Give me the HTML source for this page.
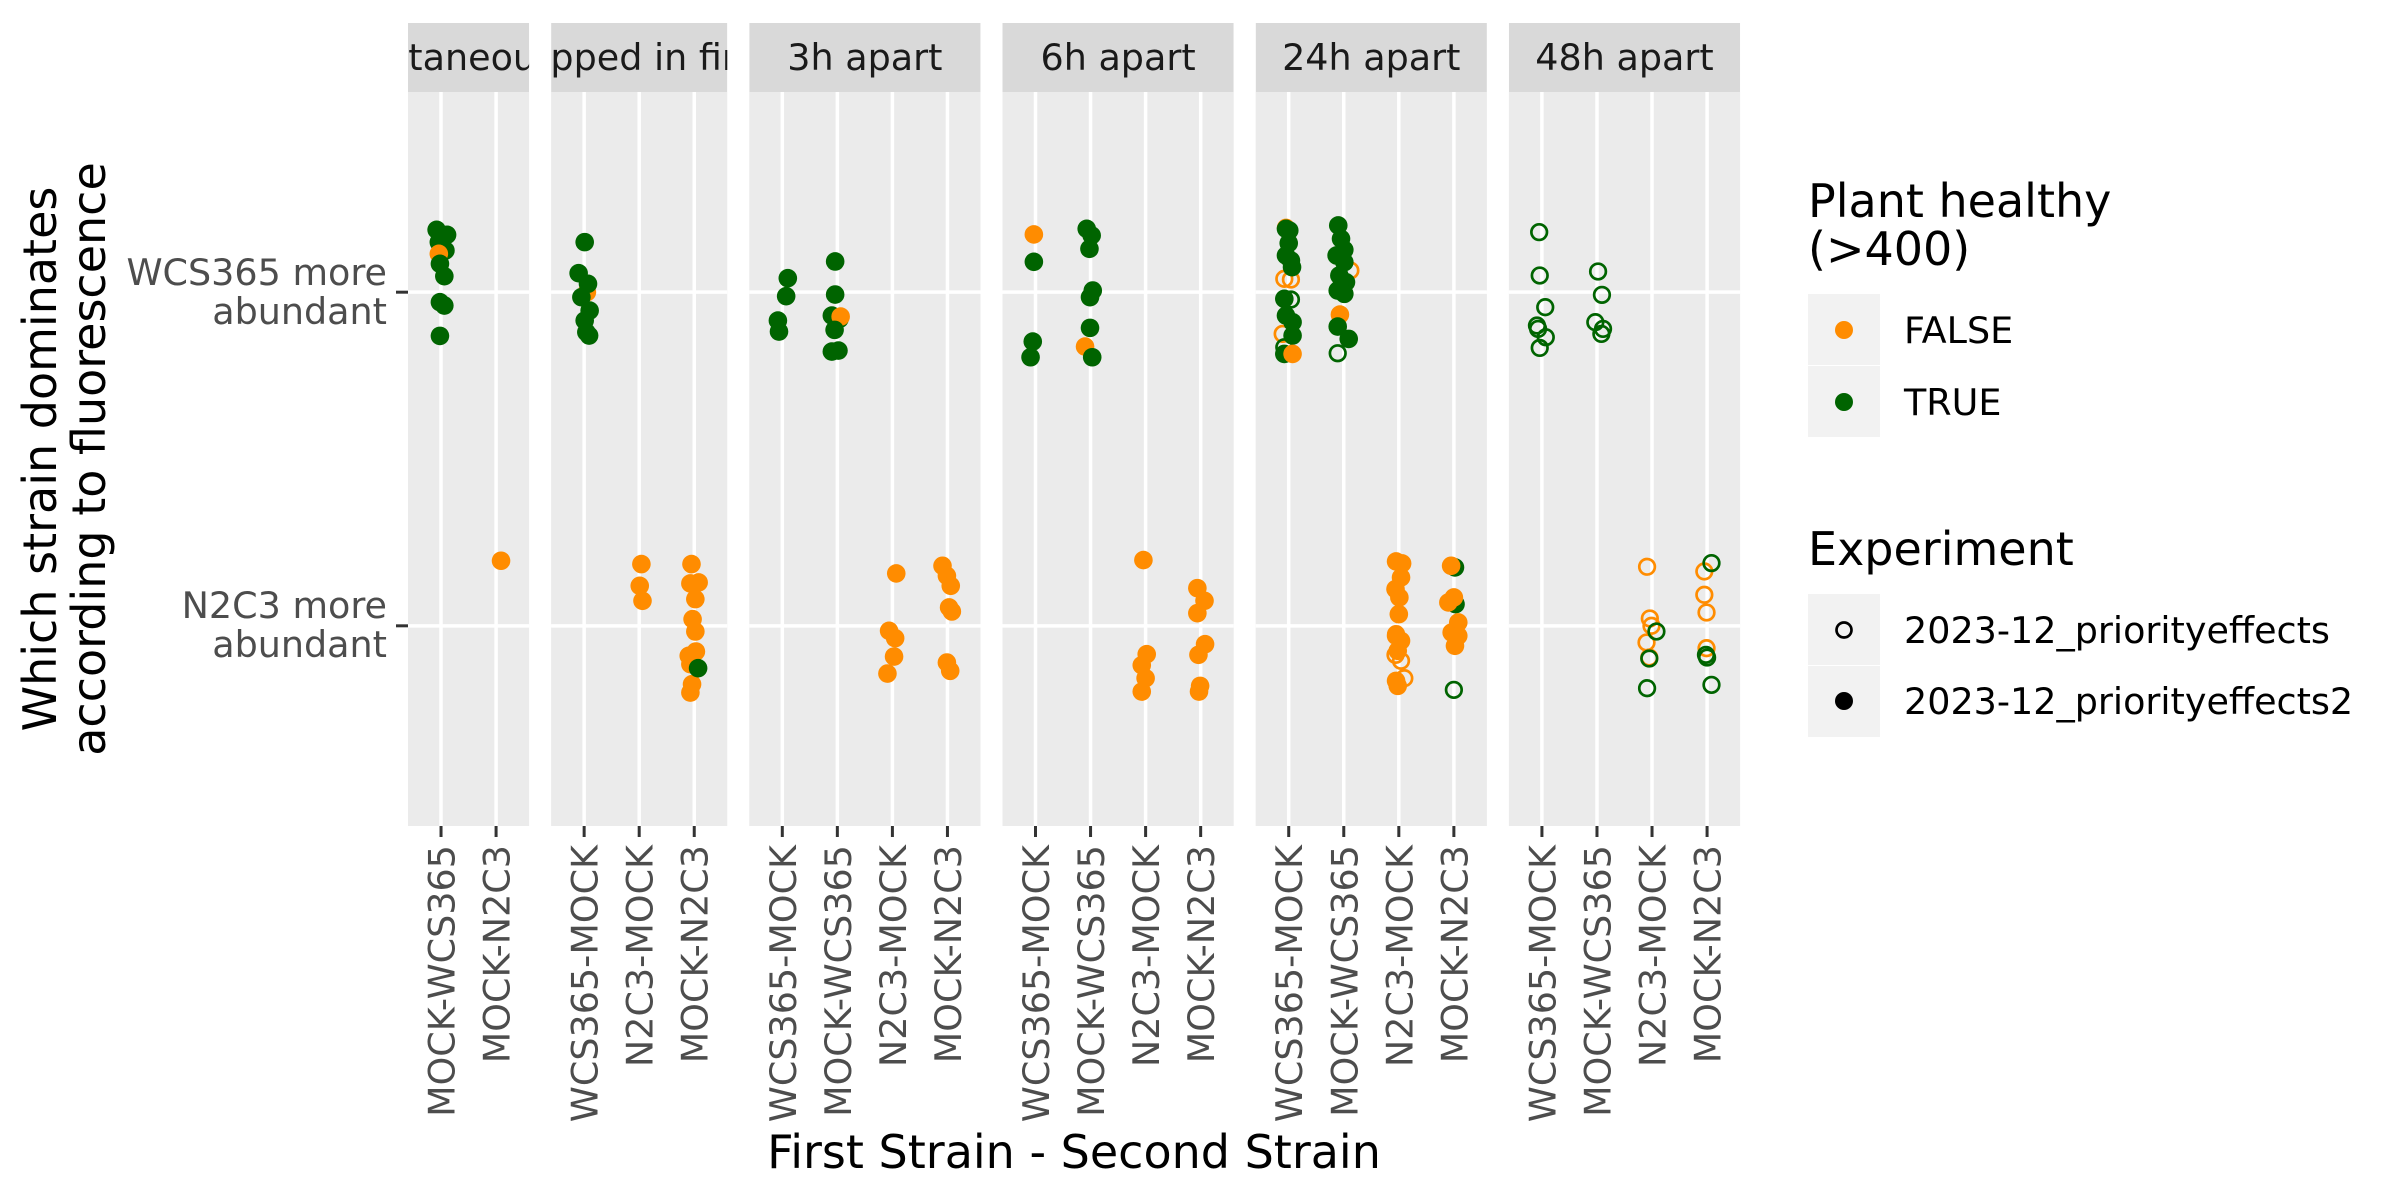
<!DOCTYPE html>
<html><head><meta charset="utf-8"><title>Strain dominance by fluorescence</title>
<style>
html,body{margin:0;padding:0;background:#fff;}
svg{display:block;font-family:"DejaVu Sans","Liberation Sans",sans-serif;}
</style></head>
<body>
<svg id="chart" width="2400" height="1200" viewBox="0 0 2400 1200" xmlns="http://www.w3.org/2000/svg">
  <defs id="defs"></defs>
  <g id="panels"></g>
  <g id="yaxis">
    <text x="387" y="285" font-size="36.5" fill="#4D4D4D" text-anchor="end">WCS365 more</text>
    <text x="387" y="324" font-size="36.5" fill="#4D4D4D" text-anchor="end">abundant</text>
    <text x="387" y="618" font-size="36.5" fill="#4D4D4D" text-anchor="end">N2C3 more</text>
    <text x="387" y="657" font-size="36.5" fill="#4D4D4D" text-anchor="end">abundant</text>
  </g>
  <g font-size="46" fill="#000" text-anchor="middle">
    <text transform="translate(56,459) rotate(-90)">Which strain dominates</text>
    <text transform="translate(105,459) rotate(-90)">according to fluorescence</text>
  </g>
  <text x="1074" y="1168" font-size="46" fill="#000" text-anchor="middle">First Strain - Second Strain</text>

  <g>
    <text x="1808" y="217" font-size="46">Plant healthy</text>
    <text x="1808" y="265" font-size="46">(&gt;400)</text>
    <rect x="1808" y="294" width="72" height="71" fill="#F2F2F2"/>
    <rect x="1808" y="366" width="72" height="71" fill="#F2F2F2"/>
    <circle cx="1844" cy="330" r="9" fill="#FF8C00"/>
    <circle cx="1844" cy="402" r="9" fill="#006400"/>
    <text x="1904" y="343" font-size="36.5" fill="#000">FALSE</text>
    <text x="1904" y="415" font-size="36.5" fill="#000">TRUE</text>
  </g>
  <g>
    <text x="1808" y="565" font-size="46">Experiment</text>
    <rect x="1808" y="594" width="72" height="71" fill="#F2F2F2"/>
    <rect x="1808" y="666" width="72" height="71" fill="#F2F2F2"/>
    <circle cx="1844" cy="630" r="7.5" fill="none" stroke="#000" stroke-width="2.7"/>
    <circle cx="1844" cy="701" r="9" fill="#000"/>
    <text x="1904" y="643" font-size="36.5" fill="#000">2023-12_priorityeffects</text>
    <text x="1904" y="714" font-size="36.5" fill="#000">2023-12_priorityeffects2</text>
  </g>
</svg>
<script>
// ---- data ----
const facetLabels = ["Simultaneous", "Dropped in first", "3h apart", "6h apart", "24h apart", "48h apart"];
const facetCategories = [
  ["MOCK-WCS365", "MOCK-N2C3"],
  ["WCS365-MOCK", "N2C3-MOCK", "MOCK-N2C3"],
  ["WCS365-MOCK", "MOCK-WCS365", "N2C3-MOCK", "MOCK-N2C3"],
  ["WCS365-MOCK", "MOCK-WCS365", "N2C3-MOCK", "MOCK-N2C3"],
  ["WCS365-MOCK", "MOCK-WCS365", "N2C3-MOCK", "MOCK-N2C3"],
  ["WCS365-MOCK", "MOCK-WCS365", "N2C3-MOCK", "MOCK-N2C3"]
];
const yCategories = ["N2C3 more abundant", "WCS365 more abundant"]; // 1, 2
// points: [facet, categoryIndex, jitterX (category units), value (1=N2C3 .. 2=WCS365, jittered), healthy (1/0), experiment (1 = open, 2 = filled)]
const points = [
  [0,0,-0.08,2.187,1,2],[0,0,0.11,2.172,1,2],[0,0,-0.04,2.15,1,2],[0,0,0.08,2.125,1,2],[0,0,-0.04,2.115,0,2],
  [0,0,-0.02,2.085,1,2],[0,0,0.06,2.048,1,2],[0,0,-0.02,1.97,1,2],[0,0,0.06,1.96,1,2],[0,0,-0.02,1.869,1,2],
  [0,1,0.09,1.195,0,2],
  [1,0,0.01,2.15,1,2],[1,0,-0.1,2.057,1,2],[1,0,0.05,2.0,0,2],[1,0,0.07,2.025,1,2],[1,0,-0.05,1.985,1,2],
  [1,0,0.1,1.945,1,2],[1,0,0.01,1.915,1,2],[1,0,0.04,1.88,1,2],[1,0,0.09,1.87,1,2],
  [1,1,0.04,1.185,0,2],[1,1,0.01,1.12,0,2],[1,1,0.06,1.075,0,2],
  [1,2,-0.05,1.185,0,2],[1,2,0.08,1.13,0,2],[1,2,-0.07,1.127,0,2],[1,2,0.02,1.08,0,2],[1,2,-0.03,1.02,0,2],
  [1,2,0.02,0.983,0,2],[1,2,0.03,0.923,0,2],[1,2,-0.1,0.91,0,2],[1,2,-0.07,0.885,0,2],[1,2,-0.04,0.825,0,2],
  [1,2,-0.07,0.8,0,2],[1,2,0.07,0.873,1,2],
  [2,0,0.1,2.042,1,2],[2,0,0.07,1.988,1,2],[2,0,-0.08,1.915,1,2],[2,0,-0.06,1.882,1,2],
  [2,1,-0.04,2.092,1,2],[2,1,-0.04,1.993,1,2],[2,1,-0.1,1.93,1,2],[2,1,0.04,1.92,1,2],[2,1,0.06,1.927,0,2],
  [2,1,-0.05,1.887,1,2],[2,1,-0.1,1.822,1,2],[2,1,0.02,1.825,1,2],
  [2,2,0.07,1.157,0,2],[2,2,-0.06,0.985,0,2],[2,2,0.05,0.963,0,2],[2,2,0.03,0.908,0,2],[2,2,-0.09,0.857,0,2],
  [2,3,-0.09,1.18,0,2],[2,3,-0.01,1.15,0,2],[2,3,0.06,1.12,0,2],[2,3,0.03,1.055,0,2],[2,3,0.08,1.043,0,2],
  [2,3,-0.01,0.89,0,2],[2,3,0.05,0.865,0,2],
  [3,0,-0.03,2.173,0,2],[3,0,-0.03,2.091,1,2],[3,0,-0.05,1.852,1,2],[3,0,-0.09,1.805,1,2],
  [3,1,-0.07,2.19,1,2],[3,1,0.02,2.17,1,2],[3,1,-0.02,2.13,1,2],[3,1,0.04,2.005,1,2],[3,1,-0.01,1.985,1,2],
  [3,1,-0.01,1.893,1,2],[3,1,-0.1,1.837,0,2],[3,1,0.03,1.805,1,2],
  [3,2,-0.04,1.197,0,2],[3,2,0.02,0.915,0,2],[3,2,-0.07,0.882,0,2],[3,2,0.0,0.843,0,2],[3,2,-0.07,0.803,0,2],
  [3,3,-0.06,1.113,0,2],[3,3,0.07,1.075,0,2],[3,3,-0.06,1.038,0,2],[3,3,0.08,0.945,0,2],[3,3,-0.04,0.913,0,2],
  [3,3,-0.01,0.82,0,2],[3,3,-0.03,0.803,0,2],
  [4,0,-0.08,2.04,0,1],[4,0,0.04,2.038,0,1],[4,0,-0.11,1.875,0,1],[4,0,-0.05,2.193,0,1],[4,0,0.04,1.978,1,1],[4,0,-0.08,1.835,1,1],
  [4,0,-0.05,2.19,1,2],[4,0,0.01,2.185,1,2],[4,0,0.0,2.147,1,2],[4,0,-0.05,2.11,1,2],[4,0,0.04,2.095,1,2],
  [4,0,0.06,2.075,1,2],[4,0,-0.08,1.98,1,2],[4,0,-0.05,1.93,1,2],[4,0,0.07,1.91,1,2],[4,0,0.07,1.87,1,2],
  [4,0,-0.08,1.815,1,2],[4,0,0.07,1.815,0,2],
  [4,1,0.12,2.065,0,1],[4,1,-0.11,1.817,1,1],
  [4,1,-0.1,2.2,1,2],[4,1,-0.05,2.16,1,2],[4,1,0.01,2.127,1,2],[4,1,-0.13,2.11,1,2],[4,1,0.01,2.09,1,2],
  [4,1,-0.08,2.05,1,2],[4,1,0.04,2.03,1,2],[4,1,-0.11,2.005,1,2],[4,1,0.01,1.995,1,2],[4,1,-0.07,1.933,0,2],
  [4,1,-0.11,1.897,1,2],[4,1,0.09,1.86,1,2],
  [4,2,-0.06,0.913,0,1],[4,2,0.04,0.895,0,1],[4,2,0.1,0.843,0,1],[4,2,-0.05,0.975,0,1],
  [4,2,-0.05,1.193,0,2],[4,2,0.06,1.187,0,2],[4,2,0.04,1.145,0,2],[4,2,-0.06,1.11,0,2],[4,2,0.01,1.085,0,2],
  [4,2,0.0,1.035,0,2],[4,2,0.04,0.955,0,2],[4,2,-0.05,0.97,0,2],[4,2,-0.02,0.925,0,2],[4,2,-0.05,0.835,0,2],[4,2,-0.02,0.82,0,2],
  [4,3,0.0,0.808,1,1],
  [4,3,0.02,1.175,1,2],[4,3,0.03,1.065,1,2],
  [4,3,-0.05,1.18,0,2],[4,3,0.0,1.085,0,2],[4,3,-0.1,1.07,0,2],[4,3,0.08,1.01,0,2],[4,3,-0.04,0.98,0,2],
  [4,3,0.08,0.97,0,2],[4,3,0.02,0.94,0,2],
  [5,0,-0.05,2.18,1,1],[5,0,-0.04,2.05,1,1],[5,0,0.06,1.955,1,1],[5,0,-0.09,1.9,1,1],[5,0,-0.07,1.89,1,1],
  [5,0,0.07,1.865,1,1],[5,0,-0.04,1.833,1,1],
  [5,1,0.02,2.062,1,1],[5,1,0.09,1.992,1,1],[5,1,-0.03,1.91,1,1],[5,1,0.11,1.89,1,1],[5,1,0.08,1.875,1,1],
  [5,2,-0.09,1.177,0,1],[5,2,-0.04,1.022,0,1],[5,2,-0.01,1.0,0,1],[5,2,-0.1,0.95,0,1],[5,2,-0.05,0.905,0,1],
  [5,2,0.08,0.983,1,1],[5,2,-0.05,0.902,1,1],[5,2,-0.09,0.813,1,1],
  [5,3,-0.05,1.163,0,1],[5,3,-0.05,1.093,0,1],[5,3,-0.01,1.04,0,1],[5,3,-0.01,0.933,0,1],
  [5,3,0.08,1.188,1,1],[5,3,-0.02,0.913,1,1],[5,3,0.0,0.905,1,1],[5,3,0.08,0.823,1,1]
];
const stripClipOffsetEm = [2.79, 1.79, null, null, null, null];

// ---- layout ----
const NS = "http://www.w3.org/2000/svg";
const panelTop = 92, panelBottom = 826, stripTop = 23;
const x0 = 408, catUnit = 55.05, expand = 0.6, gap = 22.0;
const FS = 36.5;
const colorHealthy = ["#FF8C00", "#006400"];
function yScale(v) { return panelBottom - (v - 1 + expand) / (1 + 2 * expand) * (panelBottom - panelTop); }
function mk(tag, attrs, parent) {
  const el = document.createElementNS(NS, tag);
  for (const k in attrs) el.setAttribute(k, attrs[k]);
  parent.appendChild(el);
  return el;
}
const panelsG = document.getElementById("panels");
const defs = document.getElementById("defs");
const panelStarts = [];
let cx = x0;
facetCategories.forEach((cats) => {
  panelStarts.push(cx);
  cx += ((cats.length - 1) + 2 * expand) * catUnit + gap;
});
function xScale(f, ci) { return panelStarts[f] + (expand + ci) * catUnit; }

facetCategories.forEach((cats, f) => {
  const left = panelStarts[f];
  const w = ((cats.length - 1) + 2 * expand) * catUnit;
  const g = mk("g", {}, panelsG);
  
  
  const bg = mk("rect", {x: left, y: panelTop, width: w, height: panelBottom - panelTop, fill: "#EBEBEB"}, g);
  
  
  [1, 2].forEach(v => {
    const gl = mk("line", {x1: left, x2: left + w, y1: yScale(v), y2: yScale(v), stroke: "#fff", "stroke-width": 3.5}, g);
    
    
  });
  cats.forEach((c, ci) => {
    const x = xScale(f, ci);
    const gl = mk("line", {x1: x, x2: x, y1: panelTop, y2: panelBottom, stroke: "#fff", "stroke-width": 3.5}, g);
    
    
    const tk = mk("line", {x1: x, x2: x, y1: panelBottom, y2: panelBottom + 11, stroke: "#333", "stroke-width": 3}, g);
    
    
    const t = mk("text", {transform: "translate(" + (x + 13.5) + "," + (panelBottom + 19) + ") rotate(-90)", "font-size": FS, fill: "#4D4D4D", "text-anchor": "end"}, g);
    t.textContent = c;
    
    
  });
  const cp = mk("clipPath", {id: "clip" + f}, defs);
  mk("rect", {x: left, y: stripTop, width: w, height: panelTop - stripTop}, cp);
  const sg = mk("g", {"clip-path": "url(#clip" + f + ")"}, g);
  
  
  const sr = mk("rect", {x: left, y: stripTop, width: w, height: panelTop - stripTop, fill: "#D9D9D9"}, sg);
  
  
  const off = stripClipOffsetEm[f];
  const st = mk("text", off === null
    ? {x: left + w / 2, y: 70, "font-size": FS, fill: "#1A1A1A", "text-anchor": "middle"}
    : {x: left - off * FS, y: 70, "font-size": FS, fill: "#1A1A1A"}, sg);
  st.textContent = facetLabels[f];
  
  
});
[1, 2].forEach(v => {
  const tk = mk("line", {x1: 396, x2: 408, y1: yScale(v), y2: yScale(v), stroke: "#333", "stroke-width": 3}, document.getElementById("yaxis"));
  
  
});
const ptsG = mk("g", {}, panelsG);


points.forEach(p => {
  const [f, ci, jx, v, h, e] = p;
  const x = xScale(f, ci) + jx * catUnit;
  const y = yScale(v);
  const col = colorHealthy[h];
  const c = e === 2
    ? mk("circle", {cx: x, cy: y, r: 9.3, fill: col}, ptsG)
    : mk("circle", {cx: x, cy: y, r: 7.8, fill: "none", stroke: col, "stroke-width": 2.7}, ptsG);
  
  
});
</script>
</body></html>
